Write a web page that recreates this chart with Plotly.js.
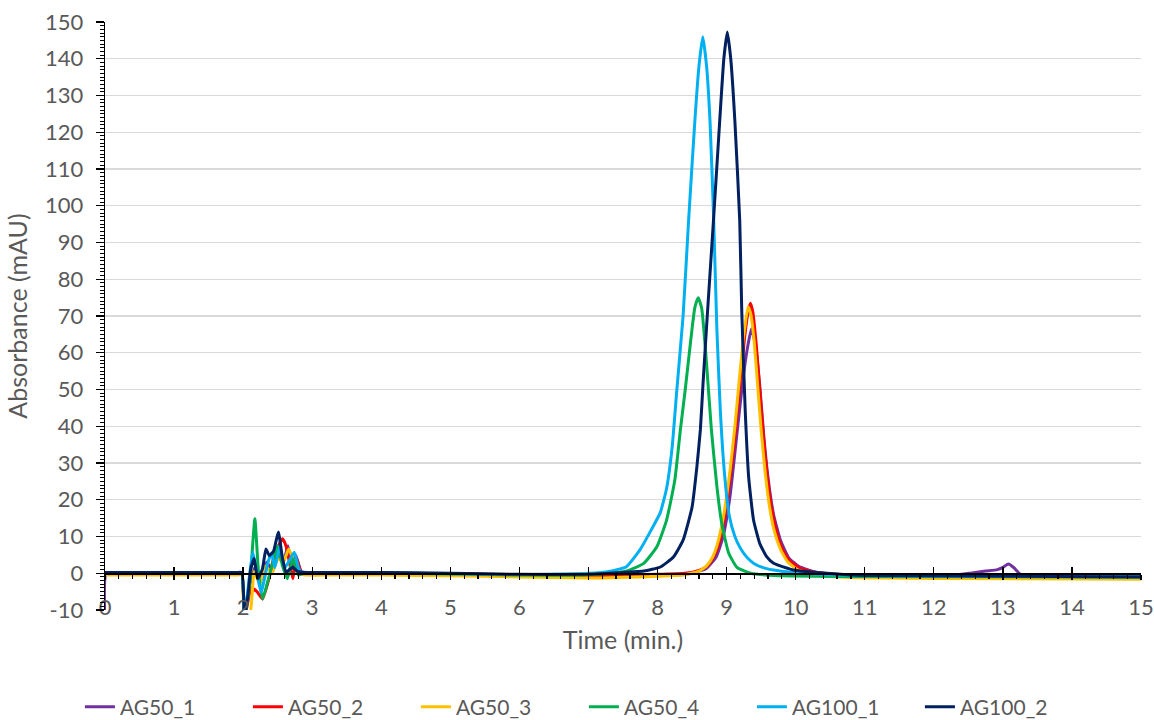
<!DOCTYPE html>
<html>
<head>
<meta charset="utf-8">
<script src="https://cdn.plot.ly/plotly-3.0.1.min.js"></script>
<style>
  html, body { margin: 0; padding: 0; background: #ffffff; }
  #chart { width: 1154px; height: 720px; }
</style>
</head>
<body>
<div id="chart"></div>
<script>
// HPLC chromatograms, absorbance (mAU) against retention time (min.)
const seriesNames = ["AG50_1", "AG50_2", "AG50_3", "AG50_4", "AG100_1", "AG100_2"];
const seriesColors = ["#7030A0", "#FF0000", "#FFC000", "#00B050", "#00B0F0", "#002060"];

const xTicks = [0, 1, 2, 3, 4, 5, 6, 7, 8, 9, 10, 11, 12, 13, 14, 15];
const yTicks = [-10, 0, 10, 20, 30, 40, 50, 60, 70, 80, 90, 100, 110, 120, 130, 140, 150];
const yTickText = ["-10", "0", "10", "20", "30", "40", "50", "60", "70", "80", "90", "100", "110", "120", "130", "140", "150"];

// AG50_1
const ag50_1_t = [0, 0.02, 0.3, 1, 1.7, 1.9, 1.98, 2.02, 2.1, 2.18, 2.26, 2.34, 2.42, 2.5, 2.58, 2.65, 2.7, 2.76, 2.84, 2.92, 3.3, 4, 5, 6, 7, 8, 8.4, 8.7, 8.85, 8.95, 9.05, 9.15, 9.22, 9.29, 9.36, 9.42, 9.48, 9.54, 9.6, 9.68, 9.78, 9.9, 10.05, 10.3, 10.7, 11.5, 12.3, 12.55, 12.75, 12.92, 13.0, 13.08, 13.16, 13.25, 13.4, 14, 15];
const ag50_1_v = [-14, 0, 0, 0, 0, 0, 0, -12, -3, 2, -2, 3, 1, 5, 3, 7.5, 1, 5, 0.5, 0, 0, 0, -0.2, -0.5, -0.7, -0.6, -0.3, 1.2, 4.5, 10, 21, 38, 50, 60, 66.5, 62, 51, 37, 26, 16, 9, 4.2, 1.8, 0.3, -0.4, -0.6, -0.5, 0.1, 0.6, 1.0, 1.6, 2.5, 1.5, -0.2, -0.6, -0.6, -0.6];

// AG50_2
const ag50_2_t = [0, 1, 1.7, 1.9, 1.98, 2.02, 2.12, 2.2, 2.28, 2.38, 2.44, 2.5, 2.57, 2.62, 2.67, 2.72, 2.77, 2.84, 2.92, 3.3, 4, 5, 6, 7, 8, 8.4, 8.6, 8.71, 8.8, 8.87, 8.95, 9.05, 9.12, 9.19, 9.26, 9.31, 9.345, 9.38, 9.43, 9.48, 9.53, 9.58, 9.64, 9.72, 9.8, 9.9, 10.05, 10.3, 10.7, 12, 15];
const ag50_2_v = [0, 0, 0, 0, 0, -12, -4, -5, -7, -1, 4, 7, 9.4, 7.5, 3, -1.5, 4, 0.3, 0, 0, 0, -0.2, -0.5, -0.6, -0.3, 0, 0.8, 1.8, 4, 7, 13, 26, 37, 51, 64, 71, 73.5, 71, 62, 50, 38, 28, 19, 11.5, 6.8, 3.6, 1.5, 0.2, -0.4, -0.8, -1.0];

// AG50_3
const ag50_3_t = [0, 1, 1.7, 1.9, 1.98, 2.02, 2.1, 2.16, 2.24, 2.32, 2.42, 2.5, 2.58, 2.66, 2.72, 2.79, 2.86, 2.94, 3.3, 4, 5, 6, 7, 8, 8.4, 8.6, 8.71, 8.8, 8.86, 8.95, 9.05, 9.12, 9.19, 9.25, 9.31, 9.35, 9.4, 9.45, 9.5, 9.55, 9.61, 9.69, 9.78, 9.88, 10.02, 10.3, 10.7, 12, 15];
const ag50_3_v = [-0.5, -0.5, -0.5, -0.5, -0.5, -12, -11, 0.5, -3, 2, 0, 4, 3, 6.6, 4, 1.5, -0.3, -0.5, -0.5, -0.5, -0.7, -1.0, -1.3, -0.8, -0.4, 0.6, 2, 4.5, 7.5, 15, 28, 40, 54, 65, 72.5, 70.5, 63, 51, 39, 29, 19.5, 11.5, 6.5, 3.2, 1.0, -0.5, -1.1, -1.4, -1.6];

// AG50_4
const ag50_4_t = [0, 1, 1.7, 1.9, 1.98, 2.02, 2.1, 2.17, 2.22, 2.28, 2.36, 2.43, 2.5, 2.57, 2.64, 2.72, 2.8, 2.88, 3.3, 4, 5, 6, 7, 7.55, 7.8, 7.99, 8.13, 8.25, 8.33, 8.4, 8.47, 8.54, 8.59, 8.64, 8.71, 8.78, 8.86, 8.93, 9.03, 9.15, 9.35, 9.7, 11, 15];
const ag50_4_v = [0, 0, 0, 0, 0, -12, -2, 14.8, 1, -7, -2, 3, 7.5, 2, -1.5, 4, -0.5, 0, 0, 0, -0.2, -0.5, -0.4, 0.6, 2.7, 7.2, 14.4, 25.3, 38.9, 49.8, 61.6, 72.3, 75, 72, 57, 39, 23.5, 13.5, 5.5, 1.6, 0, -0.6, -0.9, -1.0];

// AG100_1
const ag100_1_t = [0, 1, 1.7, 1.9, 1.98, 2.02, 2.09, 2.14, 2.2, 2.26, 2.36, 2.41, 2.46, 2.53, 2.6, 2.67, 2.74, 2.81, 2.88, 3.3, 4, 5, 6, 7, 7.3, 7.55, 7.75, 7.9, 8.04, 8.13, 8.21, 8.28, 8.37, 8.45, 8.54, 8.6, 8.655, 8.71, 8.76, 8.81, 8.86, 8.91, 8.97, 9.04, 9.12, 9.2, 9.3, 9.4, 9.55, 9.75, 10.1, 10.6, 12, 15];
const ag100_1_v = [0, 0, 0, 0, 0, -12, -1, 5.7, 0, -5.2, 3, 5.5, 1.5, 7.5, 1.5, 3.5, 5.7, 1, 0, 0, 0, -0.1, -0.4, 0, 0.5, 1.8, 6.5, 11.5, 16.5, 23, 34, 50, 70, 96, 123, 138, 146, 138, 123, 98, 66, 44, 27, 15.5, 10, 6.8, 4.2, 2.6, 1.4, 0.7, 0, -0.5, -0.8, -1.0];

// AG100_2
const ag100_2_t = [0, 1, 1.7, 1.9, 1.98, 2.02, 2.07, 2.11, 2.16, 2.21, 2.28, 2.33, 2.38, 2.44, 2.51, 2.57, 2.62, 2.67, 2.72, 2.79, 2.86, 3.3, 4, 5, 6, 7, 7.3, 7.8, 8.04, 8.23, 8.37, 8.5, 8.57, 8.62, 8.66, 8.72, 8.81, 8.9, 8.96, 9.01, 9.06, 9.12, 9.19, 9.22, 9.27, 9.32, 9.39, 9.48, 9.58, 9.68, 9.97, 10.45, 11, 15];
const ag100_2_v = [0.2, 0.2, 0.2, 0.2, 0.2, -12, -6, 1.2, 4, -1.5, 1.2, 6.6, 4.8, 6, 11.2, 4, 0.3, 1, 1.6, 0.5, 0.3, 0.2, 0.2, 0, -0.3, -0.3, 0, 0.6, 1.7, 4.4, 9, 18, 29, 39, 52, 70, 96, 123, 140, 147.3, 140, 123, 96, 71, 44, 26, 14.5, 8.1, 4.5, 2.7, 0.9, 0, -0.6, -1.0];

const seriesT = [ag50_1_t, ag50_2_t, ag50_3_t, ag50_4_t, ag100_1_t, ag100_2_t];
const seriesV = [ag50_1_v, ag50_2_v, ag50_3_v, ag50_4_v, ag100_1_v, ag100_2_v];

const textGrey = "#595959";
const baseFont = "Lato, 'Open Sans', sans-serif";

const traces = seriesNames.map((name, i) => ({
  type: "scatter",
  mode: "lines",
  name: name,
  x: seriesT[i],
  y: seriesV[i],
  line: { color: seriesColors[i], width: 3, shape: "spline", smoothing: 0.45 },
  hoverinfo: "x+y+name"
}));

// empty traces so the crossing time axis (at 0 mAU) gets its own tick sets
traces.push({ type: "scatter", mode: "lines", x: [], y: [], xaxis: "x2", yaxis: "y", showlegend: false, hoverinfo: "skip" });
traces.push({ type: "scatter", mode: "lines", x: [], y: [], xaxis: "x3", yaxis: "y", showlegend: false, hoverinfo: "skip" });

const yMin = -10, yMax = 150;
const zeroPos = (0 - yMin) / (yMax - yMin);

const layout = {
  width: 1154,
  height: 720,
  margin: { l: 105, r: 13, t: 22, b: 110 },
  paper_bgcolor: "#ffffff",
  plot_bgcolor: "#ffffff",
  font: { family: baseFont, color: textGrey, size: 22 },
  showlegend: true,
  legend: {
    orientation: "h",
    xref: "container", yref: "container",
    x: 0.506, xanchor: "center",
    y: 0.018, yanchor: "middle",
    font: { family: baseFont, size: 21, color: textGrey },
    entrywidth: 123,
    entrywidthmode: "pixels",
    traceorder: "normal"
  },
  xaxis: {
    range: [0, 15],
    tickmode: "array",
    tickvals: xTicks,
    ticktext: xTicks.map(String),
    showgrid: false,
    zeroline: false,
    showline: false,
    ticks: "",
    ticklabelstandoff: -18,
    tickfont: { family: baseFont, size: 22, color: textGrey },
    title: { text: "Time (min.)", font: { family: baseFont, size: 25, color: textGrey }, standoff: 12 }
  },
  xaxis2: {
    overlaying: "x",
    anchor: "free",
    position: zeroPos,
    range: [0, 15],
    tick0: 0, dtick: 1,
    ticks: "outside", ticklen: 5, tickwidth: 1.3, tickcolor: "#000000",
    minor: { tick0: 0, dtick: 0.2, ticks: "outside", ticklen: 4, tickwidth: 1.3, tickcolor: "#000000", showgrid: false },
    showline: true, linecolor: "#000000", linewidth: 1.5,
    showticklabels: false, showgrid: false, zeroline: false
  },
  xaxis3: {
    overlaying: "x",
    anchor: "free",
    position: zeroPos,
    range: [0, 15],
    tick0: 0, dtick: 1,
    ticks: "inside", ticklen: 6, tickwidth: 1.3, tickcolor: "#000000",
    showline: false, showticklabels: false, showgrid: false, zeroline: false
  },
  yaxis: {
    range: [yMin, yMax],
    tickmode: "array",
    tickvals: yTicks,
    ticktext: yTickText,
    showgrid: true, gridcolor: "#d9d9d9", gridwidth: 1.3,
    zeroline: false,
    showline: true, linecolor: "#000000", linewidth: 1.3,
    ticks: "outside", ticklen: 8, tickwidth: 1.3, tickcolor: "#000000",
    minor: { tick0: 0, dtick: 1, ticks: "outside", ticklen: 4, tickwidth: 1, tickcolor: "#000000", showgrid: false },
    ticklabelstandoff: 8,
    tickfont: { family: baseFont, size: 22, color: textGrey },
    title: { text: "Absorbance (mAU)", font: { family: baseFont, size: 25, color: textGrey }, standoff: 10 }
  }
};

Plotly.newPlot("chart", traces, layout, { displayModeBar: false, staticPlot: true });
</script>
</body>
</html>
